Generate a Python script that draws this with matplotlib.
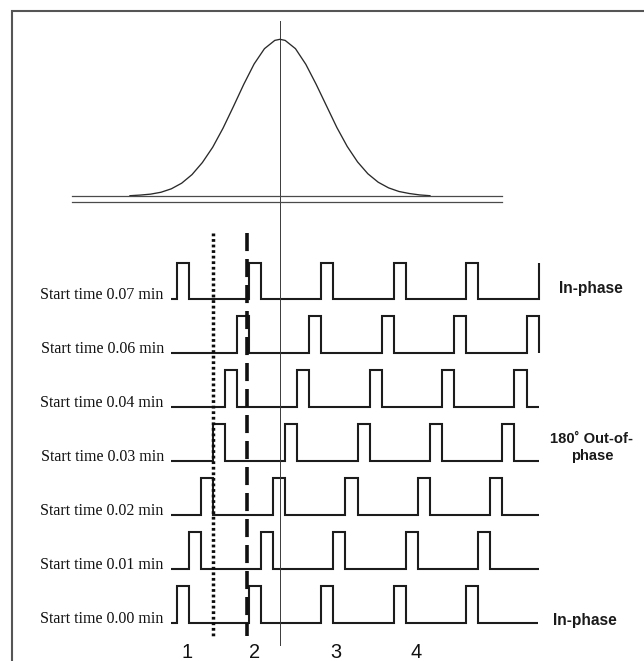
import matplotlib
matplotlib.use("Agg")
import matplotlib.pyplot as plt
import matplotlib.transforms as mtransforms
from matplotlib.lines import Line2D

# ---------------------------------------------------------------------------
# Data
# ---------------------------------------------------------------------------
# Chromatographic peak: normalised detector response against time (min)
peak_time = [-0.045, -0.035, -0.025, -0.015, -0.005, 0.005, 0.015, 0.025,
             0.035, 0.045, 0.055, 0.065, 0.075, 0.085, 0.095, 0.100, 0.105,
             0.115, 0.125, 0.135, 0.145, 0.155, 0.165, 0.175, 0.185, 0.195,
             0.205, 0.215, 0.225, 0.235, 0.245]
peak_response = [0.000, 0.004, 0.010, 0.022, 0.044, 0.080, 0.135, 0.212,
                 0.310, 0.432, 0.570, 0.712, 0.842, 0.940, 0.993, 1.000, 0.993,
                 0.940, 0.840, 0.712, 0.574, 0.436, 0.315, 0.216, 0.140, 0.086,
                 0.050, 0.027, 0.014, 0.005, 0.000]
baseline_span = [-0.1006, 0.3144]

# Modulation pulse trains
period = 0.07            # min
steps_per_period = 6
row_labels = ["Start time 0.07 min", "Start time 0.06 min",
              "Start time 0.04 min", "Start time 0.03 min",
              "Start time 0.02 min", "Start time 0.01 min",
              "Start time 0.00 min"]
row_phase_steps = [6, 5, 4, 3, 2, 1, 0]
trace_start = -0.005
trace_end = [0.3505, 0.35, 0.35, 0.35, 0.35, 0.35, 0.3495]

phase_notes = ["In-phase", "180˚ Out-of-\nphase", "In-phase"]
phase_note_rows = [0, 3, 6]

# Reference markers (min)
dotted_marker = 0.035
dashed_marker = 0.0685
apex_marker = 0.100

region_labels = ["1", "2", "3", "4"]
region_label_times = [0.0101, 0.0759, 0.1537, 0.2315]

# ---------------------------------------------------------------------------
# Layout (pixels)
# ---------------------------------------------------------------------------
W, H = 644, 661
DPI = 100
PX_PER_MIN = 1034.6
X0_PX = 176.5                      # time zero
first_baseline = 299.0
row_gap = 53.95
pulse_height = 36.5
peak_base_px = 195.7
peak_top_px = 39.3

fig = plt.figure(figsize=(W / DPI, H / DPI), dpi=DPI)
fig.patch.set_facecolor("white")

xlim = (-X0_PX / PX_PER_MIN, (W - X0_PX) / PX_PER_MIN)

ax = fig.add_axes([0, 0, 1, 1])
ax.set_xlim(*xlim)
ax.set_ylim(H, 0)
ax.axis("off")

# Peak axes: response 0..1 between the baseline and the apex
ax_pk = fig.add_axes([0, 1 - peak_base_px / H, 1,
                      (peak_base_px - peak_top_px) / H])
ax_pk.set_xlim(*xlim)
ax_pk.set_ylim(0, 1)
ax_pk.axis("off")
ax_pk.patch.set_alpha(0)

ink = "#1c1c1c"

# Peak trace and its doubled baseline
ax_pk.plot(peak_time, peak_response, color="#2a2a2a", lw=0.95,
           solid_joinstyle="round", clip_on=False)
ax_pk.plot(baseline_span, [0, 0], color="#4a4a4a", lw=0.9, clip_on=False)
shift = mtransforms.ScaledTranslation(0, -6.6 / DPI, fig.dpi_scale_trans)
ax_pk.plot(baseline_span, [0, 0], color="#4a4a4a", lw=0.9, clip_on=False,
           transform=ax_pk.transData + shift)

# Pulse trains
width = period / steps_per_period
for i, (label, steps, t_end) in enumerate(zip(row_labels, row_phase_steps,
                                              trace_end)):
    base = first_baseline + i * row_gap
    phase = steps * width
    starts = []
    for n in range(-2, 8):
        s = phase + n * period
        if s >= trace_start - 1e-9 and s < t_end - 1e-9:
            starts.append(s)
    xs, ys = [trace_start], [0]
    high = False
    for s in starts:
        e = s + width
        xs += [s, s]
        ys += [0, 1]
        if e <= t_end + 1e-9:
            xs += [e, e]
            ys += [1, 0]
        else:
            xs.append(t_end)
            ys.append(1)
            high = True
    if not high:
        xs.append(t_end)
        ys.append(0)
    ax.plot(xs, [base - v * pulse_height for v in ys], color=ink, lw=1.5,
            solid_joinstyle="miter", solid_capstyle="butt")

    ax.annotate(label, xy=(trace_start, base), xytext=(-7.5, 0),
                textcoords="offset pixels", ha="right", va="baseline",
                fontsize=11.5, family=["Liberation Serif", "DejaVu Serif"],
                color="#111111")

# Phase notes at the right-hand side
note_offsets = [(559.5, -10.0), (592.0, -13.5), (553.0, -2.0)]
note_align = ["left", "center", "left"]
note_sizes = [11.2, 10.6, 11.2]
for text, row, (xp, dy), ha, fs in zip(phase_notes, phase_note_rows,
                                       note_offsets, note_align, note_sizes):
    base = first_baseline + row * row_gap
    ax.text((xp - X0_PX) / PX_PER_MIN, base + dy, text, ha=ha, va="center",
            fontsize=fs, fontweight="bold", linespacing=1.25,
            family=["Liberation Sans", "DejaVu Sans"], color="#1a1a1a")

# Marker lines
y_top_markers, y_bot_markers = 232.5, 636.0
ax.plot([dotted_marker, dotted_marker], [y_top_markers, y_bot_markers],
        color="#0d0d0d", lw=2.5, linestyle=(0, (0.8, 0.8)),
        dash_capstyle="butt")
ax.plot([dashed_marker, dashed_marker], [y_top_markers, y_bot_markers],
        color="#111111", lw=2.6, linestyle=(0, (5.0, 2.2)),
        dash_capstyle="butt")
ax.plot([apex_marker, apex_marker], [20.7, 645.0], color="#3a3a3a", lw=0.7)

# Region numbers along the bottom
for lab, t in zip(region_labels, region_label_times):
    ax.text(t, 658.0, lab, ha="center", va="baseline", fontsize=14.4,
            family=["Liberation Sans", "DejaVu Sans"], color="#111111")

# Panel frame (left and top edges)
fig.add_artist(Line2D([12 / W, 12 / W, 1.0], [0.0, 1 - 11 / H, 1 - 11 / H],
                      transform=fig.transFigure, color="#555555", lw=1.5,
                      solid_joinstyle="miter"))

fig.savefig("out.png", dpi=DPI, facecolor="white")
